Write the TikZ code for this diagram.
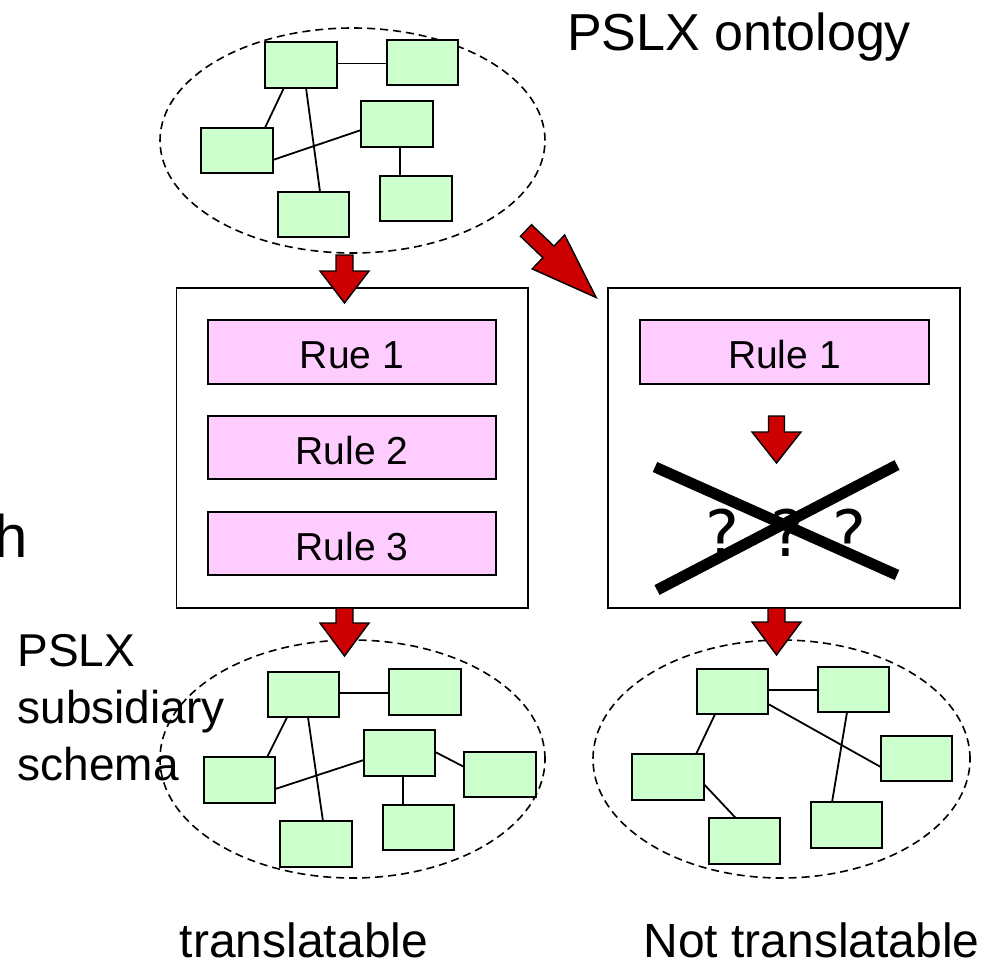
\documentclass[tikz,border=0pt]{standalone}
\usepackage{fontspec}
\setmainfont{Liberation Sans}
\newfontfamily\qfont{DejaVu Sans}
\usetikzlibrary{shapes.geometric}
\definecolor{gfill}{HTML}{CCFFCC}
\definecolor{pfill}{HTML}{FFCCFF}
\definecolor{ared}{HTML}{CC0000}
\tikzset{
  gbox/.style={draw=black, fill=gfill, line width=2.2pt, minimum width=71.5pt, minimum height=45.5pt, inner sep=0pt, outer sep=0pt},
  link/.style={draw=black, line width=1.8pt},
  cloud/.style={ellipse, draw=black, dash pattern=on 8pt off 5pt, line width=1.6pt, inner sep=0pt},
  panel/.style={draw=black, line width=1.8pt},
  rulebox/.style={draw=black, fill=pfill, line width=1.8pt},
  redarr/.style={draw=black, fill=ared, line width=1.4pt, line join=miter},
  cross/.style={draw=black, line width=11pt},
}
\newcommand\blockarr[7]{%
  \begin{scope}[shift={(#1,#2)},rotate=#3]
    \path[redarr] (-#4,0) -- (#4,0) -- (#4,{#6-#7}) -- (#5,{#6-#7}) -- (0,#6)
      -- (-#5,{#6-#7}) -- (-#4,{#6-#7}) -- cycle;
  \end{scope}}
\begin{document}
\begin{tikzpicture}[x=1pt,y=-1pt]
\useasboundingbox (0,0) rectangle (984,961);

% ---------- ellipses ----------
\node[cloud, minimum width=385pt, minimum height=225pt] (topcloud) at (352.5,140.5) {};
\node[cloud, minimum width=385pt, minimum height=238pt] (leftcloud) at (352.5,759) {};
\node[cloud, minimum width=377pt, minimum height=238pt] (rightcloud) at (781.5,759) {};

% ---------- top graph ----------
\node[gbox] (tA) at (301,65) {};
\node[gbox] (tB) at (422.5,62.5) {};
\node[gbox] (tC) at (237,150.5) {};
\node[gbox] (tD) at (397,124) {};
\node[gbox] (tE) at (313.5,214.5) {};
\node[gbox] (tF) at (416,198.5) {};
\draw[link] ([yshift=1.5pt]tA.east) -- ([yshift=1.5pt]tA.east -| tB.west);
\draw[link] ([xshift=-17pt]tA.south) -- ([xshift=28pt]tC.north);
\draw[link] ([xshift=5pt]tA.south) -- ([xshift=6.5pt]tE.north);
\draw[link] ([yshift=-9.5pt]tC.east) -- ([yshift=-6pt]tD.west);
\draw[link] ([xshift=3pt]tD.south) -- ([xshift=3pt]tD.south |- tF.north);

% ---------- bottom-left graph ----------
\node[gbox] (lA) at (303.5,694.5) {};
\node[gbox] (lB) at (425,692) {};
\node[gbox] (lC) at (239.5,780) {};
\node[gbox] (lD) at (399.5,753) {};
\node[gbox] (lE) at (316,844) {};
\node[gbox] (lF) at (418.5,827.5) {};
\node[gbox] (lG) at (500,774.5) {};
\draw[link] ([yshift=1.5pt]lA.east) -- ([yshift=1.5pt]lA.east -| lB.west);
\draw[link] ([xshift=-16.5pt]lA.south) -- ([xshift=27.5pt]lC.north);
\draw[link] ([xshift=4.5pt]lA.south) -- ([xshift=7pt]lE.north);
\draw[link] ([yshift=-9pt]lC.east) -- ([yshift=-7pt]lD.west);
\draw[link] ([xshift=3.5pt]lD.south) -- ([xshift=3.5pt]lD.south |- lF.north);
\draw[link] ([yshift=1pt]lD.east) -- ([yshift=7.5pt]lG.west);

% ---------- bottom-right graph ----------
\node[gbox] (rA) at (732.5,691.5) {};
\node[gbox] (rB) at (853.5,689.5) {};
\node[gbox] (rC) at (668,777) {};
\node[gbox] (rD) at (916.5,758.5) {};
\node[gbox] (rE) at (744.5,841) {};
\node[gbox] (rF) at (846.5,825) {};
\draw[link] ([yshift=1.5pt]rA.east) -- ([yshift=1.5pt]rA.east -| rB.west);
\draw[link] ([xshift=-17.5pt]rA.south) -- ([xshift=28pt]rC.north);
\draw[link] ([yshift=-12.5pt]rA.east) -- ([yshift=-8.5pt]rD.west);
\draw[link] ([xshift=-6.5pt]rB.south) -- ([xshift=-14.5pt]rF.north);
\draw[link] ([yshift=-7pt]rC.east) -- ([xshift=-8.5pt]rE.north);

% ---------- panels ----------
\draw[panel] (176.5,288) rectangle (528,608);
\draw[panel] (608,288) rectangle (960,608);
\node[rulebox, minimum width=288pt, minimum height=64pt, inner sep=0pt] (r1) at (352,352) {};
\node[rulebox, minimum width=288pt, minimum height=63pt, inner sep=0pt] (r2) at (352,447.5) {};
\node[rulebox, minimum width=288pt, minimum height=63pt, inner sep=0pt] (r3) at (352,543.5) {};
\node[rulebox, minimum width=289pt, minimum height=64pt, inner sep=0pt] (rr1) at (784.5,352) {};
\node[anchor=base, font=\fontsize{39}{45}\selectfont] (t1) at (352,368) {Rue 1};
\node[anchor=base, font=\fontsize{39}{45}\selectfont] (t2) at (352,464) {Rule 2};
\node[anchor=base, font=\fontsize{39}{45}\selectfont] (t3) at (352,560) {Rule 3};
\node[anchor=base, font=\fontsize{39}{45}\selectfont] (tr1) at (784.5,368) {Rule 1};

% ---------- question marks and cross ----------
\node[anchor=base, font=\qfont\fontsize{64}{70}\selectfont] (q1) at (722,556) {?};
\node[anchor=base, font=\qfont\fontsize{64}{70}\selectfont] (q2) at (787,556) {?};
\node[anchor=base, font=\qfont\fontsize{64}{70}\selectfont] (q3) at (849,556) {?};
\draw[cross] (655,467) -- (897,575);
\draw[cross] (657,590) -- (897,465);

% ---------- red arrows ----------
\blockarr{344.5}{255}{0}{8.5}{24.5}{48}{32}
\blockarr{344.5}{608}{0}{8.5}{24.5}{48}{33}
\blockarr{776.5}{608}{0}{8.5}{24.5}{47}{33}
\blockarr{776.5}{416}{0}{8}{24.5}{47}{31}
\blockarr{526}{230.5}{46.3}{8}{23.5}{97}{66}

% ---------- texts ----------
\node[anchor=base, font=\fontsize{52}{60}\selectfont] (title) at (739,50) {PSLX ontology};
\node[anchor=base east, font=\fontsize{60}{70}\selectfont] (hword) at (31,557) {h};
\node[anchor=base west, font=\fontsize{46}{55}\selectfont] (s1) at (14,666) {PSLX};
\node[anchor=base west, font=\fontsize{46}{55}\selectfont] (s2) at (14,723) {subsidiary};
\node[anchor=base west, font=\fontsize{46}{55}\selectfont] (s3) at (14,780) {schema};
\node[anchor=base, font=\fontsize{48}{56}\selectfont] (lab1) at (304,957) {translatable};
\node[anchor=base, font=\fontsize{48}{56}\selectfont] (lab2) at (811.5,957) {Not translatable};
\end{tikzpicture}
\end{document}
